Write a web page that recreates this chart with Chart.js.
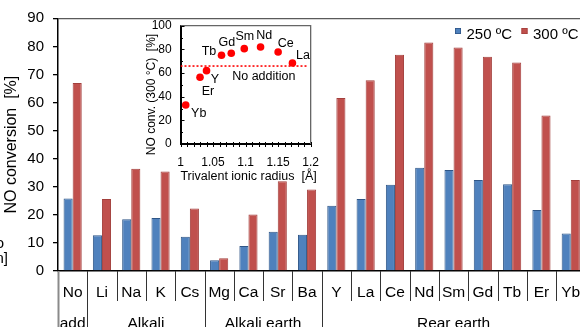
<!DOCTYPE html>
<html>
<head>
<meta charset="utf-8">
<script src="https://cdn.jsdelivr.net/npm/chart.js@4.4.0/dist/chart.umd.min.js"></script>
<style>
  html, body { margin: 0; padding: 0; background: #fff; }
  body { width: 580px; height: 327px; overflow: hidden; position: relative; }
  #main { position: absolute; left: 0; top: 0; }
  #inset { position: absolute; left: 140px; top: 5px; }
</style>
</head>
<body>
<canvas id="main" width="600" height="327"></canvas>
<canvas id="inset" width="190" height="185"></canvas>
<script>
// main chart data
const categories = ['No', 'Li', 'Na', 'K', 'Cs', 'Mg', 'Ca', 'Sr', 'Ba', 'Y', 'La', 'Ce', 'Nd', 'Sm', 'Gd', 'Tb', 'Er', 'Yb'];
const conv250 = [25.8, 12.7, 18.4, 18.9, 12.2, 3.8, 8.9, 14.0, 12.9, 23.2, 25.6, 30.7, 36.8, 36.0, 32.4, 30.9, 21.7, 13.4];
const conv300 = [67.0, 25.6, 36.4, 35.4, 22.3, 4.5, 20.1, 32.0, 29.0, 61.6, 67.9, 77.0, 81.4, 79.6, 76.3, 74.3, 55.4, 32.4];
const groupNames = ['add', 'Alkali', 'Alkali earth', 'Rear earth'];
const groupStarts = [0, 1, 5, 9];
const groupEnds = [1, 5, 9, 18];

// inset data
const insetNames = ['Yb', 'Er', 'Y', 'Tb', 'Gd', 'Sm', 'Nd', 'Ce', 'La'];
const insetRadius = [1.008, 1.030, 1.040, 1.063, 1.078, 1.098, 1.123, 1.150, 1.172];
const insetConv = [33.0, 56.4, 62.0, 75.0, 76.7, 80.6, 82.0, 77.8, 68.5];
const noAddition = 65.9;

const FONT = 'Arial, "Liberation Sans", sans-serif';
Chart.defaults.font.family = FONT;
Chart.defaults.color = '#000';

// label placement for inset point names (dx, dy from the point)
const labelOffsets = {
  Yb: [13, 9], Er: [8, 14], Y: [8.5, 8.5], Tb: [-12.5, -4], Gd: [-4.5, -11],
  Sm: [0.5, -12.5], Nd: [3.7, -11.5], Ce: [7.7, -8.5], La: [10.5, -7.7]
};

const mainDecor = {
  id: 'mainDecor',
  afterDraw(chart) {
    const ctx = chart.ctx;
    const xs = chart.scales.x;
    const bottom = chart.chartArea.bottom;
    const half = (xs.getPixelForValue(1) - xs.getPixelForValue(0)) / 2;
    ctx.save();
    // category labels
    ctx.fillStyle = '#000';
    ctx.font = '15.5px ' + FONT;
    ctx.textAlign = 'center';
    ctx.textBaseline = 'alphabetic';
    categories.forEach((c, i) => ctx.fillText(c, xs.getPixelForValue(i), 297));
    // separators
    for (let i = 0; i <= categories.length; i++) {
      const x = Math.round(xs.getPixelForValue(i) - half) + 0.5;
      const isGroup = groupStarts.includes(i) || i === categories.length;
      ctx.beginPath();
      if (i === 0) { ctx.strokeStyle = '#8a8a8a'; ctx.lineWidth = 2; }
      else { ctx.strokeStyle = '#333'; ctx.lineWidth = 1; }
      ctx.moveTo(x, bottom);
      ctx.lineTo(x, isGroup ? 327 : 301);
      ctx.stroke();
    }
    // group labels
    groupNames.forEach((g, k) => {
      const x0 = xs.getPixelForValue(groupStarts[k]) - half;
      const x1 = xs.getPixelForValue(groupEnds[k] - 1) + half;
      ctx.fillText(g, (x0 + x1) / 2, 328);
    });
    // legend
    ctx.font = '15px ' + FONT;
    ctx.textAlign = 'left';
    const legX = [455, 521.5];
    chart.data.datasets.forEach((ds, k) => {
      ctx.fillStyle = ds.backgroundColor;
      ctx.fillRect(legX[k], 28, 6, 6);
      ctx.strokeStyle = ds.borderColor;
      ctx.lineWidth = 0.8;
      ctx.strokeRect(legX[k] + 0.4, 28.4, 5.2, 5.2);
      ctx.fillStyle = '#000';
      ctx.fillText(ds.label, legX[k] + 11.5, 38.5);
    });
    // cut-off text at the left edge
    ctx.textAlign = 'right';
    ctx.fillText('o', 4, 248);
    ctx.fillText('n]', 8, 263);
    ctx.restore();
  }
};

new Chart(document.getElementById('main'), {
  type: 'bar',
  data: {
    labels: categories,
    datasets: [
      { label: '250 ºC', data: conv250, backgroundColor: '#4F81BD', borderColor: '#2F5687', borderWidth: 1 },
      { label: '300 ºC', data: conv300, backgroundColor: '#C0504D', borderColor: '#A33F3C', borderWidth: 1 }
    ]
  },
  options: {
    responsive: false,
    animation: false,
    layout: { padding: { top: 18.3, right: 14.6, left: 0, bottom: 0 } },
    plugins: { legend: { display: false }, tooltip: { enabled: false } },
    datasets: { bar: { categoryPercentage: 0.62, barPercentage: 1.0 } },
    scales: {
      x: {
        ticks: { display: false },
        grid: { display: false, drawTicks: false },
        border: { color: '#000', width: 1.5 },
        afterFit: s => { s.height = 56; }
      },
      y: {
        min: 0, max: 90,
        ticks: { stepSize: 10, padding: 9, color: '#000', font: { size: 15 } },
        grid: {
          color: c => (c.tick && c.tick.value === 90 ? '#5a5a5a' : 'rgba(0,0,0,0)'),
          tickColor: '#000', tickLength: 5, lineWidth: 1.3
        },
        border: { color: '#000', width: 1.5 },
        title: { display: true, text: 'NO conversion  [%]', color: '#000', font: { size: 16 }, padding: { top: 2.4, bottom: 0 } },
        afterFit: s => { s.width = 58; }
      }
    }
  },
  plugins: [mainDecor]
});

const insetDecor = {
  id: 'insetDecor',
  afterDraw(chart) {
    const ctx = chart.ctx;
    const xs = chart.scales.x, ys = chart.scales.y;
    const a = chart.chartArea;
    ctx.save();
    // top and right frame
    ctx.strokeStyle = '#666';
    ctx.lineWidth = 1.3;
    ctx.beginPath();
    ctx.moveTo(a.left, a.top);
    ctx.lineTo(a.right, a.top);
    ctx.lineTo(a.right, a.bottom);
    ctx.stroke();
    // tick marks
    ctx.strokeStyle = '#000';
    ctx.lineWidth = 1;
    for (let v = 0; v <= 100; v += 10) {
      const y = Math.round(ys.getPixelForValue(v)) + 0.5;
      const len = v % 20 === 0 ? 4 : 2.5;
      ctx.beginPath();
      ctx.moveTo(a.left, y);
      ctx.lineTo(a.left + len, y);
      ctx.stroke();
    }
    for (let k = 0; k <= 20; k++) {
      const x = Math.round(xs.getPixelForValue(1 + k * 0.01)) + 0.5;
      ctx.beginPath();
      ctx.moveTo(x, a.bottom - 2);
      ctx.lineTo(x, a.bottom + 3);
      ctx.stroke();
    }
    // y tick labels from the scale's ticks
    ctx.fillStyle = '#000';
    ctx.font = '12px ' + FONT;
    ctx.textAlign = 'right';
    ctx.textBaseline = 'middle';
    ys.ticks.forEach(t => ctx.fillText(String(t.value), a.left - 8.8, ys.getPixelForValue(t.value)));
    // point names
    ctx.font = '12.5px ' + FONT;
    ctx.textAlign = 'center';
    insetNames.forEach((n, i) => {
      const [dx, dy] = labelOffsets[n];
      ctx.fillText(n, xs.getPixelForValue(insetRadius[i]) + dx, ys.getPixelForValue(insetConv[i]) + dy);
    });
    ctx.fillText('No addition', xs.getPixelForValue(1.128), ys.getPixelForValue(noAddition) + 11);
    // axis titles
    ctx.textBaseline = 'alphabetic';
    ctx.fillText('Trivalent ionic radius  [Å]', (a.left + a.right) / 2 + 3, 175);
    ctx.font = '12px ' + FONT;
    ctx.translate(14.5, 89.5);
    ctx.rotate(-Math.PI / 2);
    ctx.fillText('NO conv. (300 °C)  [%]', 0, 0);
    ctx.restore();
  }
};

new Chart(document.getElementById('inset'), {
  type: 'scatter',
  data: {
    datasets: [
      {
        data: insetRadius.map((r, i) => ({ x: r, y: insetConv[i] })),
        pointRadius: 3.8, pointBackgroundColor: '#FF0000', pointBorderColor: '#FF0000', pointBorderWidth: 0
      },
      {
        type: 'line',
        data: [{ x: 1.0, y: noAddition }, { x: 1.196, y: noAddition }],
        borderColor: '#FF0000', borderWidth: 1.6, borderDash: [2, 2], pointRadius: 0, fill: false
      }
    ]
  },
  options: {
    responsive: false,
    animation: false,
    layout: { padding: { top: 20.7, right: 14.3, left: 0, bottom: 0 } },
    plugins: { legend: { display: false }, tooltip: { enabled: false } },
    scales: {
      x: {
        type: 'linear', min: 1, max: 1.2,
        ticks: { stepSize: 0.05, padding: 11, color: '#000', font: { size: 12 }, callback: v => String(Math.round(v * 100) / 100) },
        grid: { display: false, drawTicks: false },
        border: { color: '#000', width: 2 },
        afterFit: s => { s.height = 46; }
      },
      y: {
        min: 0, max: 100,
        ticks: { display: false, stepSize: 20 },
        grid: { display: false, drawTicks: false },
        border: { color: '#000', width: 2 },
        afterFit: s => { s.width = 40.5; }
      }
    }
  },
  plugins: [insetDecor]
});
</script>
</body>
</html>
